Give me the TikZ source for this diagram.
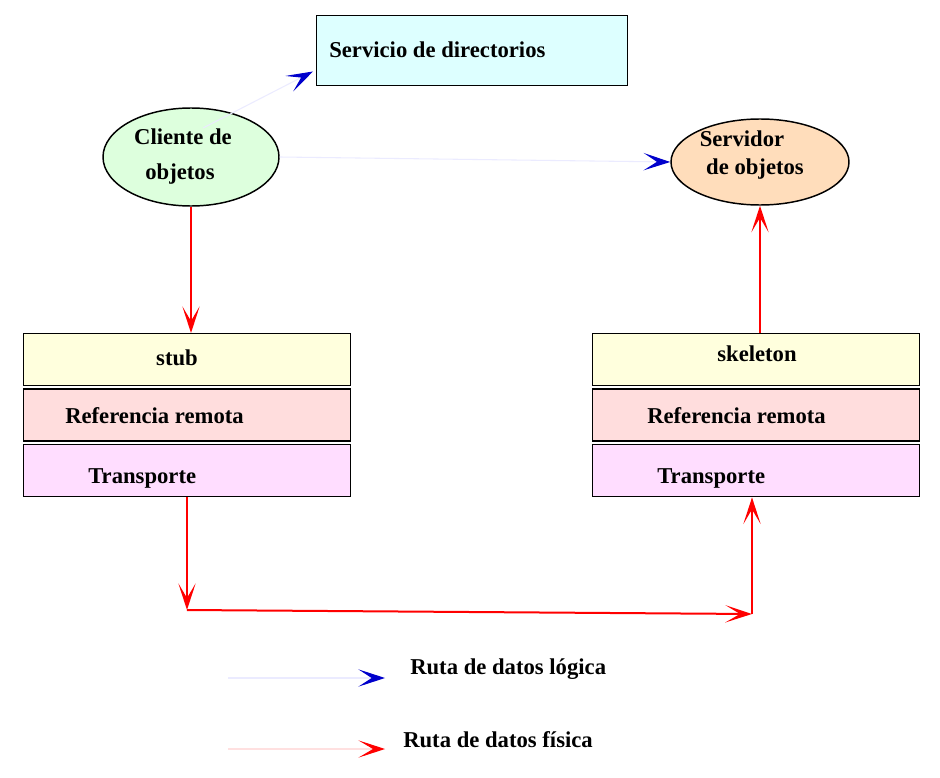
\documentclass[tikz,border=0pt]{standalone}
\usepackage{fontspec}
\setmainfont{Liberation Serif}
\usetikzlibrary{shapes.geometric}
\usetikzlibrary{positioning}
\usetikzlibrary{arrows.meta}
\definecolor{dirfill}{RGB}{221,255,255}
\definecolor{clifill}{RGB}{221,255,221}
\definecolor{srvfill}{RGB}{255,221,187}
\definecolor{stubfill}{RGB}{255,255,221}
\definecolor{reffill}{RGB}{255,221,221}
\definecolor{tpfill}{RGB}{255,221,255}
\tikzset{node distance=1.5pt,
txt/.style={
font=\bfseries\fontsize{17}{20}\selectfont,
inner sep=0pt},
layer/.style={
draw=black,
line width=1.1pt,
minimum width=245pt,
minimum height=39pt,
inner sep=0pt},
obj/.style={
ellipse,
draw,
line width=1.1pt,
inner sep=0pt},
logica/.style={
draw=blue!8,
line width=0.8pt,
-{Stealth[length=20pt,width=13pt,inset=10pt,color=blue!80!black]}},
fisica/.style={
draw=red,
line width=1.5pt,
-{Stealth[length=20pt,width=13pt,inset=11pt,color=red]}}}

\begin{document}
\begin{tikzpicture}[x=0.75pt, y=-0.75pt]
\useasboundingbox (0,0) rectangle (940,778);
% directory service and objects
\node[draw=black, line width=1.1pt, fill=dirfill, minimum width=233pt, minimum height=52.5pt, anchor=north west] (dir) at (316,15) {};
\node[txt, anchor=base west] (dirtxt) at (329,57) {Servicio de directorios};
\node[obj, fill=clifill, minimum width=132pt, minimum height=73.5pt] (cli) at (191,157) {};
\node[txt, anchor=base] (cliA) at (183,144) {Cliente de};
\node[txt, anchor=base] (cliB) at (180,179) {objetos};
\node[obj, fill=srvfill, minimum width=133.5pt, minimum height=64.5pt] (srv) at (760,162) {};
\node[txt, anchor=base] (srvA) at (742,146) {Servidor};
\node[txt, anchor=base] (srvB) at (755,174) {de objetos};
% client side layers
\node[layer, fill=stubfill, anchor=north west] (stub) at (23,333) {};
\node[layer, fill=reffill, below=of stub] (refL) {};
\node[layer, fill=tpfill, below=of refL] (tpL) {};
\node[txt, anchor=base] (stubtxt) at (177,365) {stub};
\node[txt, anchor=base west] (refLtxt) at (65,423) {Referencia remota};
\node[txt, anchor=base west] (tpLtxt) at (88,483) {Transporte};
% server side layers
\node[layer, fill=stubfill, anchor=north west] (skel) at (592,333) {};
\node[layer, fill=reffill, below=of skel] (refR) {};
\node[layer, fill=tpfill, below=of refR] (tpR) {};
\node[txt, anchor=base] (skeltxt) at (757,361) {skeleton};
\node[txt, anchor=base west] (refRtxt) at (647,423) {Referencia remota};
\node[txt, anchor=base west] (tpRtxt) at (657,483) {Transporte};
% logical paths
\draw[logica] (cli.center) ++(12,-29) -- ([shift={(-3,-15)}]dir.south west);
\draw[logica] (cli.east) -- (srv.west);
% physical paths
\coordinate (bendL) at (187,610);
\coordinate (bendR) at (752,614);
\draw[fisica] (cli.south) -- (cli.south |- stub.north);
\draw[fisica] (srv.south |- skel.north) -- (srv.south);
\draw[fisica] (tpL.south -| bendL) -- (bendL);
\draw[fisica] (bendL) -- (bendR);
\draw[fisica] (bendR) -- (tpR.south -| bendR);
% legend
\coordinate (lgA) at (228,678);
\coordinate (lgB) at (385,678);
\coordinate (lgC) at (228,749);
\coordinate (lgD) at (385,749);
\draw[logica] (lgA) -- (lgB);
\draw[fisica, draw=red!12, line width=0.8pt] (lgC) -- (lgD);
\node[txt, anchor=base west] (lgtxtA) at (410,674) {Ruta de datos lógica};
\node[txt, anchor=base west] (lgtxtB) at (403,747) {Ruta de datos física};
\end{tikzpicture}
\end{document}
